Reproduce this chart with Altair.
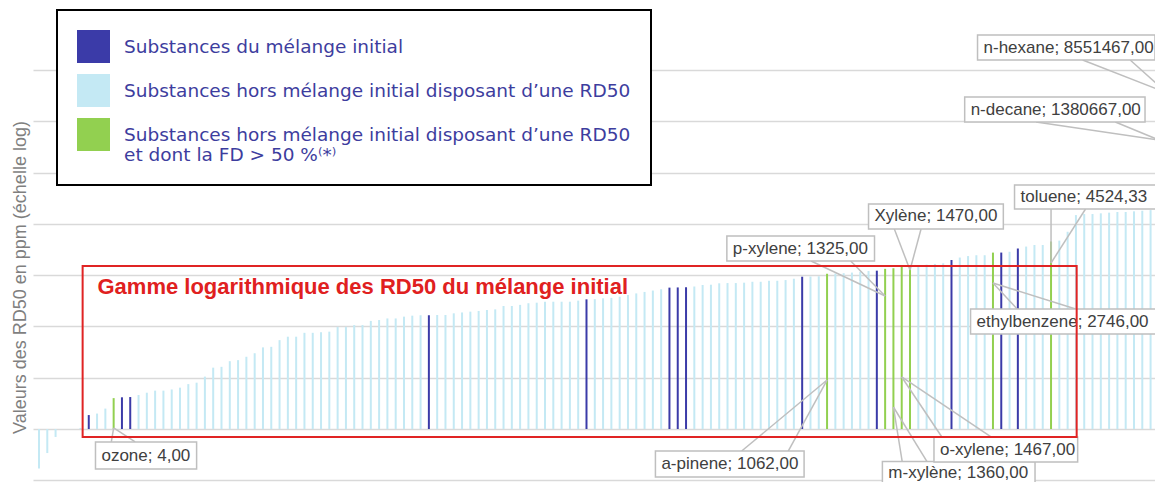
import altair as alt
import pandas as pd

# RD50 values (ppm), one per substance, in the order of the chart
rd50 = [0.17, 0.34, 0.70, 1.0, 1.0, 1.05, 1.87, 2.0, 2.5, 4.0,
        4.15, 4.2, 4.6, 5.1, 5.6, 5.6, 5.9, 6.4, 7.5, 8.0,
        10.5, 15.7, 16.3, 21, 22, 25.6, 30, 39, 40, 54,
        63, 63, 75, 75, 77, 79, 98, 98, 106, 106,
        128, 133, 143, 143, 155, 162, 165, 165, 167, 167,
        180, 187, 194, 200, 209, 215, 250, 250, 263, 283,
        290, 303, 303, 303, 303, 318, 337, 340, 353, 360,
        380, 409, 440, 470, 500, 530, 570, 575, 580, 600,
        641, 650, 692, 700, 700, 712, 742, 742, 775, 775,
        800, 850, 930, 940, 950, 1062, 1070, 1090, 1120, 1160,
        1200, 1220, 1325, 1360, 1467, 1470, 1500, 1600, 1650, 1700,
        1970, 2200, 2350, 2440, 2440, 2746, 2750, 2850, 3300, 3600,
        3860, 3860, 4524.33, 4700, 7000, 14800, 15500, 15500, 16000, 16500,
        17000, 17000, 17500, 18000, 18500, 1380667, 8551467]

# positions (in the sorted order) of the substances of the initial mixture
mixture_idx = [6, 10, 11, 47, 66, 76, 77, 78, 92, 101, 110, 116, 118]
# positions of the substances outside the mixture with FD > 50 %
fd50_idx = [9, 95, 102, 103, 104, 105, 115, 122, 135, 136]

groups = ["A", "B", "C"]
group_labels = [
    "Substances du mélange initial",
    "Substances hors mélange initial disposant d’une RD50",
    ["Substances hors mélange initial disposant d’une RD50", "et dont la FD > 50 %⁽*⁾"],
]
group_colors = ["#3b3ba8", "#c4e9f4", "#92d050"]

# data labels
label_names = ["ozone", "a-pinene", "p-xylene", "m-xylène", "o-xylene",
               "Xylène", "ethylbenzene", "toluene", "n-decane", "n-hexane"]
label_bar = [9, 95, 102, 103, 104, 105, 115, 122, 135, 136]

# label layout in data space: box x1, x2 (bar index), top, bottom (log10 ppm),
# apex (index, log10) and the two base points of the callout on the box edge
label_layout = [
    # x1,     x2,    top,    bot,   apx,  apy,   b1,     b2,     by
    (6.81,   19.0,  -0.253, -0.780,   9,  0.02,   8.72,  11.59, -0.253),
    (74.31,  92.23, -0.429, -0.936,  95,  0.955, 84.71,  90.32, -0.429),
    (82.92, 100.72,  3.762,  3.275, 102,  2.593, 93.07,  97.85,  3.275),
    (101.67, 120.07, -0.634, -1.092, 103,  0.429, 104.06, 107.05, -0.634),
    (107.89, 125.21, -0.156, -0.643, 104,  1.014, 108.84, 114.81, -0.156),
    (100.0, 116.25,  4.386,  3.899, 105,  3.099, 103.11, 106.33,  3.899),
    (112.3,  136.3,  2.339,  1.852, 115,  2.846, 117.92, 124.97,  2.339),
    (117.6,  136.3,  4.756,  4.288, 122,  3.236, 122.0,  126.16,  4.288),
    (111.59, 133.33, 6.472,  5.984, 135,  5.634, 120.19, 129.75,  5.984),
    (113.14, 134.53, 7.680,  7.193, 136,  6.55,  125.81, 131.54,  7.193),
]

range_box = (5.26, 125.09, 3.177, -0.156)
range_text = "Gamme logarithmique des RD50 du mélange initial"
range_text_pos = (7.05, 2.768)

y_title = "Valeurs des RD50 en ppm (échelle log)"
grid_values = [0.1, 1, 10, 100, 1e3, 1e4, 1e5, 1e6, 1e7]

# ---------------------------------------------------------------- tables
df = pd.DataFrame({"idx": list(range(len(rd50))), "rd50": rd50})
df["groupe"] = ["C" if i in fd50_idx else ("A" if i in mixture_idx else "B") for i in df["idx"]]
df["base"] = 1.0


def fr(v):
    return f"{v:.2f}".replace(".", ",")


boxes, segs = [], []
for name, bi, lay in zip(label_names, label_bar, label_layout):
    x1, x2, top, bot, apx, apy, b1, b2, by = lay
    boxes.append({"x1": x1, "x2": x2, "ytop": 10 ** top, "ybot": 10 ** bot,
                  "tx": x1 + 0.72, "ty": 10 ** ((top + bot) / 2),
                  "txt": f"{name}; {fr(rd50[bi])}"})
    for b in (b1, b2):
        segs.append({"x": b, "y": 10 ** by, "xe": apx, "ye": 10 ** apy})
boxes = pd.DataFrame(boxes)
segs = pd.DataFrame(segs)
rbox = pd.DataFrame([{"x1": range_box[0], "x2": range_box[1],
                      "ytop": 10 ** range_box[2], "ybot": 10 ** range_box[3]}])
rtext = pd.DataFrame([{"x": range_text_pos[0], "y": 10 ** range_text_pos[1], "t": range_text}])

# ---------------------------------------------------------------- scales
xs = alt.Scale(domain=[-0.1195, 133.93], nice=False, zero=False)
ys = alt.Scale(type="log", domain=[0.0927, 1.609e8], nice=False)
yaxis = alt.Axis(values=grid_values, grid=True, gridColor="#d9d9d9", gridWidth=1.5,
                 labels=False, ticks=False, domain=False, title=y_title,
                 titleFont="Liberation Sans", titleFontSize=18, titleFontWeight="normal",
                 titleColor="#7f7f7f", titleAngle=270, titleX=-13, titleY=269,
                 titleBaseline="middle", titleAlign="center")

label_expr = ("datum.value == 'A' ? '" + group_labels[0] + "' : datum.value == 'B' ? '"
              + group_labels[1] + "' : ['" + group_labels[2][0] + "', '" + group_labels[2][1] + "']")

bars = alt.Chart(df).mark_bar(size=2).encode(
    x=alt.X("idx:Q", scale=xs, axis=None),
    y=alt.Y("rd50:Q", scale=ys, axis=yaxis),
    y2="base:Q",
    color=alt.Color("groupe:N", scale=alt.Scale(domain=groups, range=group_colors),
                    legend=alt.Legend(title=None, orient="none", legendX=24, legendY=2,
                                      direction="vertical", symbolType="square",
                                      symbolSize=1089, symbolStrokeWidth=0, symbolOpacity=1,
                                      labelFont="DejaVu Sans", labelFontSize=18.5,
                                      labelColor="#3d3d9e", labelLimit=700, labelOffset=14,
                                      rowPadding=11, padding=20, strokeColor="#000000",
                                      fillColor="#ffffff", labelExpr=label_expr)),
)

wedges = alt.Chart(segs).mark_rule(color="#bfbfbf", strokeWidth=1.5).encode(
    x=alt.X("x:Q", scale=xs, axis=None),
    y=alt.Y("y:Q", scale=ys, axis=yaxis),
    x2="xe:Q", y2="ye:Q",
)

box_marks = alt.Chart(boxes).mark_rect(fill="#ffffff", stroke="#bfbfbf", strokeWidth=1.5).encode(
    x=alt.X("x1:Q", scale=xs, axis=None),
    x2="x2:Q",
    y=alt.Y("ytop:Q", scale=ys, axis=yaxis),
    y2="ybot:Q",
)

box_text = alt.Chart(boxes).mark_text(align="left", baseline="middle", font="Liberation Sans",
                                      fontSize=17, color="#404040").encode(
    x=alt.X("tx:Q", scale=xs, axis=None),
    y=alt.Y("ty:Q", scale=ys, axis=yaxis),
    text="txt:N",
)

red_rect = alt.Chart(rbox).mark_rect(fillOpacity=0, stroke="#e02424", strokeWidth=2).encode(
    x=alt.X("x1:Q", scale=xs, axis=None),
    x2="x2:Q",
    y=alt.Y("ytop:Q", scale=ys, axis=yaxis),
    y2="ybot:Q",
)

red_text = alt.Chart(rtext).mark_text(align="left", baseline="middle", font="Liberation Sans",
                                      fontSize=22, fontWeight="bold", color="#e02020").encode(
    x=alt.X("x:Q", scale=xs, axis=None),
    y=alt.Y("y:Q", scale=ys, axis=yaxis),
    text="t:N",
)

chart = alt.layer(bars, wedges, box_marks, box_text, red_rect, red_text).properties(
    width=1122, height=474,
    autosize=alt.AutoSizeParams(type="none"),
    padding={"left": 25, "right": 0, "top": 0, "bottom": 0},
).configure_view(strokeWidth=0).configure_legend(strokeWidth=2)

chart.save("out.html", embed_options={"renderer": "svg", "actions": False})
